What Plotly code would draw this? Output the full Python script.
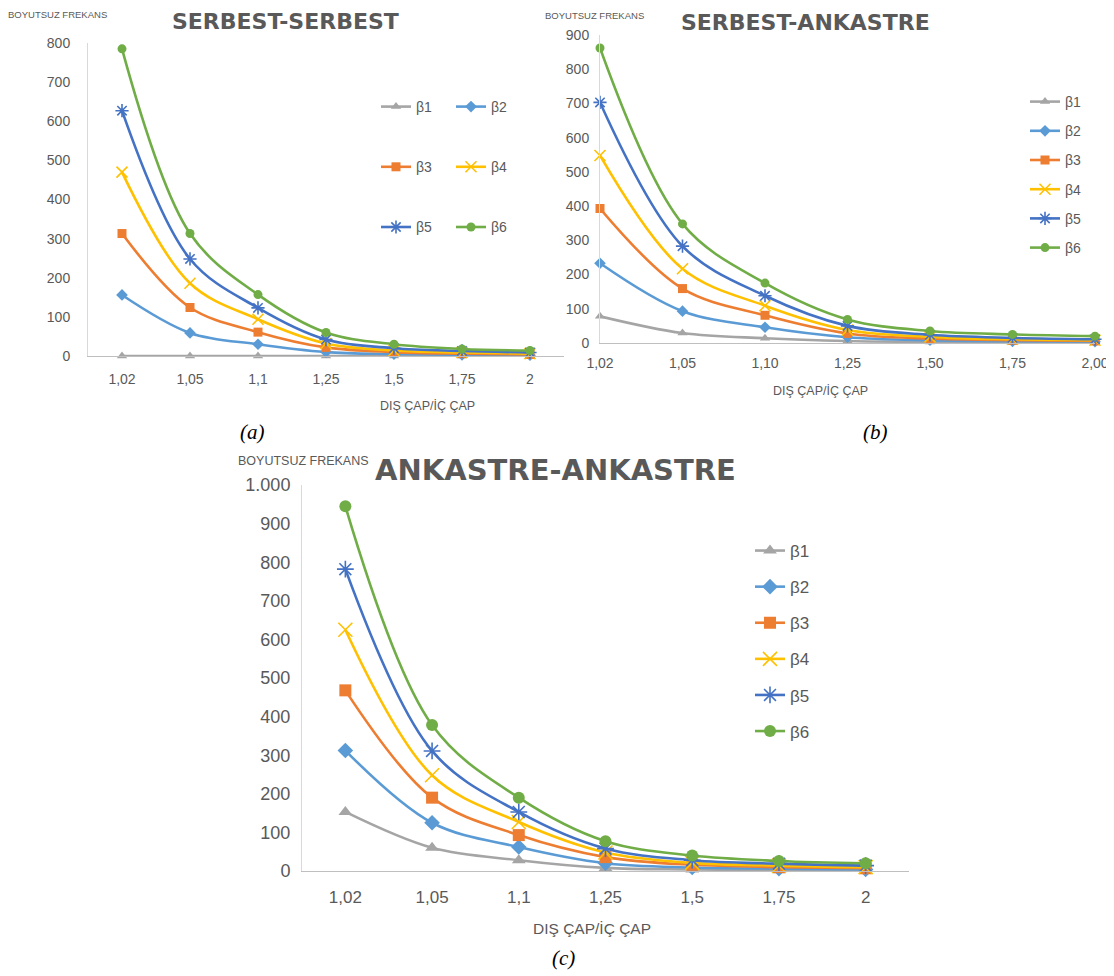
import plotly.graph_objects as go

# page body has an 8px margin; figure sized to fit the 1114x976 window
OFF = 8
W, H = 1114 - OFF, 976 - OFF

# ---------------- data ----------------
cats_ss = ["1,02", "1,05", "1,1", "1,25", "1,5", "1,75", "2"]
cats_sa = ["1,02", "1,05", "1,10", "1,25", "1,50", "1,75", "2,00"]
cats_aa = ["1,02", "1,05", "1,1", "1,25", "1,5", "1,75", "2"]

series_names = ["β1", "β2", "β3", "β4", "β5", "β6"]

ss_b1 = [0, 0, 0, 0, 0, 0, 0]
ss_b2 = [156, 59, 30, 10, 5, 3, 2]
ss_b3 = [313, 124, 61, 22, 10, 6, 4]
ss_b4 = [470, 186, 94, 32, 14, 9, 6]
ss_b5 = [627, 248, 123, 42, 20, 13, 9]
ss_b6 = [785, 313, 157, 60, 30, 18, 14]

sa_b1 = [78, 29, 14, 6, 3, 2, 1]
sa_b2 = [233, 93, 46, 17, 8, 5, 4]
sa_b3 = [393, 159, 81, 28, 13, 8, 6]
sa_b4 = [548, 217, 109, 38, 18, 11, 8]
sa_b5 = [703, 283, 138, 50, 24, 15, 11]
sa_b6 = [862, 348, 175, 69, 35, 25, 20]

aa_b1 = [153, 60, 28, 8, 4, 2, 1]
aa_b2 = [312, 125, 62, 20, 9, 6, 4]
aa_b3 = [468, 190, 93, 36, 16, 10, 7]
aa_b4 = [625, 248, 127, 48, 21, 14, 10]
aa_b5 = [782, 311, 153, 58, 28, 19, 14]
aa_b6 = [945, 378, 190, 77, 40, 26, 20]

# ---------------- styles ----------------
colors = ["#A5A5A5", "#5B9BD5", "#ED7D31", "#FFC000", "#4472C4", "#70AD47"]
symbols = ["triangle-up", "diamond", "square", "x-thin-open", "asterisk-open", "circle"]
open_sym = [False, False, False, True, True, False]
TXT = "#595959"


def fx(px):
    return (px - OFF) / W


def fy(py):
    return 1 - (py - OFF) / H


fig = go.Figure()

panels = [
    dict(cats=cats_ss, data=[ss_b1, ss_b2, ss_b3, ss_b4, ss_b5, ss_b6], xa="x", ya="y",
         legends=["legend", "legend4", "legend", "legend4", "legend", "legend4"], msize=9, key="a"),
    dict(cats=cats_sa, data=[sa_b1, sa_b2, sa_b3, sa_b4, sa_b5, sa_b6], xa="x2", ya="y2",
         legends=["legend2"] * 6, msize=9, key="b"),
    dict(cats=cats_aa, data=[aa_b1, aa_b2, aa_b3, aa_b4, aa_b5, aa_b6], xa="x3", ya="y3",
         legends=["legend3"] * 6, msize=12, key="c"),
]

for p in panels:
    for i, (name, vals) in enumerate(zip(series_names, p["data"])):
        ms = p["msize"] + (2 if open_sym[i] else 0)
        fig.add_trace(go.Scatter(
            x=p["cats"], y=vals, name=name, mode="lines+markers",
            xaxis=p["xa"], yaxis=p["ya"], legend=p["legends"][i],
            legendgroup=p["key"] + str(i),
            line=dict(color=colors[i], width=2.6, shape="spline", smoothing=1.0),
            marker=dict(symbol=symbols[i], size=ms, color=colors[i],
                        line=dict(color=colors[i], width=1.6 if open_sym[i] else 0)),
            cliponaxis=False,
        ))

base_font = "Liberation Sans"


def yax(dom, rng, size, standoff):
    return dict(domain=dom, range=rng, dtick=100, showgrid=False, zeroline=False,
                showline=True, linecolor="#D9D9D9", linewidth=1, ticks="",
                tickfont=dict(family=base_font, size=size, color=TXT),
                ticklabelstandoff=standoff, fixedrange=True, automargin=False)


def xax(dom, rng, size, standoff):
    return dict(domain=dom, range=rng, type="category", showgrid=False, zeroline=False,
                showline=True, linecolor="#BFBFBF", linewidth=1, ticks="",
                tickfont=dict(family=base_font, size=size, color=TXT),
                ticklabelstandoff=standoff, fixedrange=True, automargin=False)


fig.update_layout(
    width=W, height=H, margin=dict(l=0, r=0, t=0, b=0, pad=0, autoexpand=False),
    paper_bgcolor="white", plot_bgcolor="white",
    separators=",.",
    xaxis=xax([fx(88), fx(564)], [-0.5, 6.5], 14, 10) | dict(anchor="y"),
    yaxis=yax([fy(356), fy(43)], [0, 800], 14, 14) | dict(anchor="x"),
    xaxis2=xax([fx(600), fx(1095)], [0, 6], 14, 7) | dict(anchor="y2"),
    yaxis2=yax([fy(343), fy(35)], [0, 900], 14, 7) | dict(anchor="x2"),
    xaxis3=xax([fx(302), fx(909)], [-0.5, 6.5], 17, 11) | dict(anchor="y3"),
    yaxis3=yax([fy(871), fy(485)], [0, 1000], 18, 7) | dict(anchor="x3", separatethousands=True),
    legend=dict(x=fx(376), y=fy(91), xanchor="left", yanchor="top", tracegroupgap=39,
                font=dict(family=base_font, size=14, color=TXT), bgcolor="rgba(0,0,0,0)",
                itemwidth=30),
    legend4=dict(x=fx(451), y=fy(91), xanchor="left", yanchor="top", tracegroupgap=39,
                 font=dict(family=base_font, size=14, color=TXT), bgcolor="rgba(0,0,0,0)",
                 itemwidth=30),
    legend2=dict(x=fx(1025), y=fy(86), xanchor="left", yanchor="top", tracegroupgap=8,
                 font=dict(family=base_font, size=14, color=TXT), bgcolor="rgba(0,0,0,0)",
                 itemwidth=30),
    legend3=dict(x=fx(750), y=fy(533), xanchor="left", yanchor="top", tracegroupgap=11,
                 font=dict(family=base_font, size=17, color=TXT), bgcolor="rgba(0,0,0,0)",
                 itemwidth=30),
    showlegend=True,
)

ann = []
title_font = "DejaVu Sans"
# titles
ann.append(dict(text="<b>SERBEST-SERBEST</b>", x=fx(285), y=fy(21), font=dict(family=title_font, size=22, color=TXT)))
ann.append(dict(text="<b>SERBEST-ANKASTRE</b>", x=fx(805), y=fy(22), font=dict(family=title_font, size=22, color=TXT)))
ann.append(dict(text="<b>ANKASTRE-ANKASTRE</b>", x=fx(555), y=fy(470), font=dict(family=title_font, size=29, color=TXT)))
# y-axis titles
ann.append(dict(text="BOYUTSUZ FREKANS", x=fx(57), y=fy(14), font=dict(family=base_font, size=9.5, color=TXT)))
ann.append(dict(text="BOYUTSUZ FREKANS", x=fx(594), y=fy(15), font=dict(family=base_font, size=9.5, color=TXT)))
ann.append(dict(text="BOYUTSUZ FREKANS", x=fx(303), y=fy(461), font=dict(family=base_font, size=12.5, color=TXT)))
# x-axis titles
ann.append(dict(text="DIŞ ÇAP/İÇ ÇAP", x=fx(427), y=fy(406), font=dict(family=base_font, size=12.5, color=TXT)))
ann.append(dict(text="DIŞ ÇAP/İÇ ÇAP", x=fx(820), y=fy(391), font=dict(family=base_font, size=12.5, color=TXT)))
ann.append(dict(text="DIŞ ÇAP/İÇ ÇAP", x=fx(592), y=fy(928), font=dict(family=base_font, size=15.5, color=TXT)))
# panel labels
ann.append(dict(text="<i>(a)</i>", x=fx(252), y=fy(432), font=dict(family="Liberation Serif", size=21, color="black")))
ann.append(dict(text="<i>(b)</i>", x=fx(875), y=fy(432), font=dict(family="Liberation Serif", size=21, color="black")))
ann.append(dict(text="<i>(c)</i>", x=fx(563), y=fy(958), font=dict(family="Liberation Serif", size=21, color="black")))

for a in ann:
    a.update(xref="paper", yref="paper", xanchor="center", yanchor="middle", showarrow=False)
fig.update_layout(annotations=ann)

fig.write_html("out.html")
